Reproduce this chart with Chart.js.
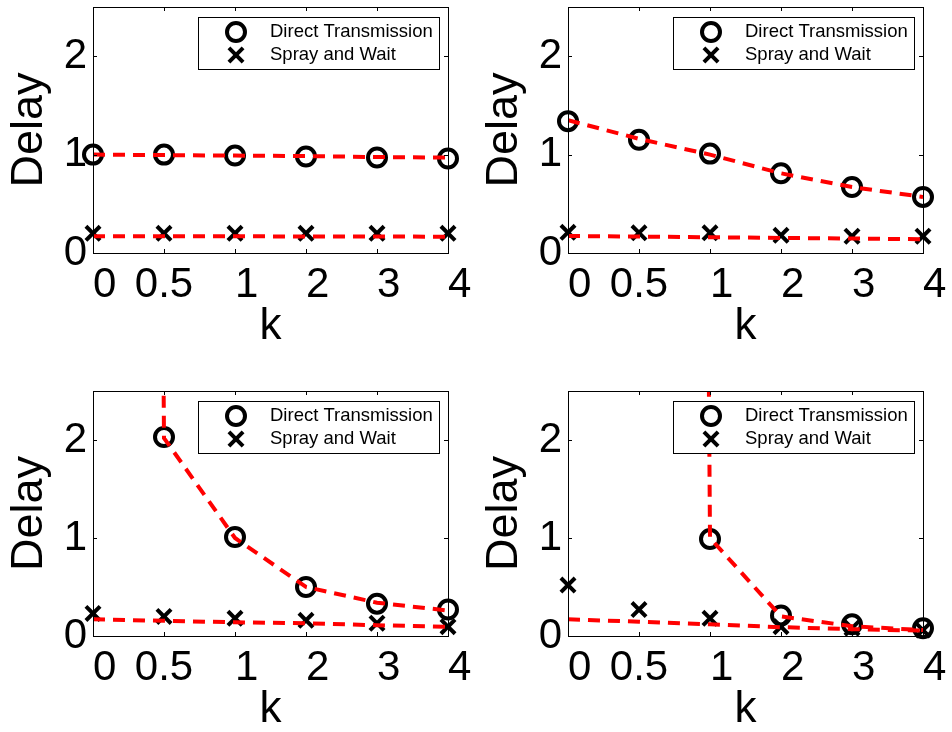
<!DOCTYPE html>
<html>
<head>
<meta charset="utf-8">
<script src="https://cdn.jsdelivr.net/npm/chart.js@4.4.1/dist/chart.umd.min.js"></script>
<style>
body { margin: 0; background: #fff; }
.panel { position: absolute; width: 476px; height: 366px; }
</style>
</head>
<body>
<div class="panel" style="left:0;top:0"><canvas id="c1" width="476" height="366"></canvas></div>
<div class="panel" style="left:475px;top:0"><canvas id="c2" width="476" height="366"></canvas></div>
<div class="panel" style="left:0;top:366px"><canvas id="c3" width="476" height="366"></canvas></div>
<div class="panel" style="left:475px;top:366px"><canvas id="c4" width="476" height="366"></canvas></div>
<script>
const kLabels = ['0', '0.5', '1', '2', '3', '4'];
const yTickValues = [0, 1, 2];
const seriesNames = ['Direct Transmission', 'Spray and Wait'];

// top left
const dt1    = [1.0, 1.0, 0.99, 0.98, 0.97, 0.96];
const dtFit1 = [1.0, 0.995, 0.99, 0.985, 0.975, 0.97];
const sw1    = [0.20, 0.20, 0.20, 0.20, 0.20, 0.20];
const swFit1 = [0.17, 0.17, 0.17, 0.168, 0.167, 0.166];

// top right
const dt2    = [1.34, 1.15, 1.01, 0.81, 0.67, 0.57];
const dtFit2 = [1.35, 1.16, 1.0, 0.81, 0.67, 0.57];
const sw2    = [0.21, 0.205, 0.205, 0.18, 0.17, 0.17];
const swFit2 = [0.173, 0.167, 0.16, 0.153, 0.147, 0.14];

// bottom left
const dt3    = [null, 2.03, 1.01, 0.50, 0.33, 0.27];
const dtFit3 = [100, 2.02, 1.0, 0.5, 0.34, 0.26];
const sw3    = [0.23, 0.20, 0.18, 0.16, 0.13, 0.095];
const swFit3 = [0.17, 0.155, 0.14, 0.13, 0.11, 0.095];

// bottom right
const dt4    = [null, null, 0.99, 0.21, 0.12, 0.08];
const dtFit4 = [100, 100, 1.0, 0.2, 0.1, 0.06];
const sw4    = [0.52, 0.27, 0.18, 0.095, 0.08, 0.06];
const swFit4 = [0.17, 0.146, 0.12, 0.09, 0.07, 0.055];

const FONT = '"Liberation Sans", Arial, Helvetica, sans-serif';

function toPoints(values) {
    return values.map((v, i) => ({x: i, y: v}));
}

// matlab style box, inward ticks and the boxed legend
const framePlugin = {
    id: 'frame',
    afterDatasetsDraw(chart) {
        const ctx = chart.ctx;
        const a = chart.chartArea;
        const xs = chart.scales.x, ys = chart.scales.y;
        const tl = 4;
        ctx.save();
        ctx.strokeStyle = '#000';
        ctx.lineWidth = 1;
        ctx.beginPath();
        xs.ticks.forEach(t => {
            let px = Math.round(xs.getPixelForValue(t.value)) + 0.5;
            ctx.moveTo(px, a.bottom); ctx.lineTo(px, a.bottom - tl);
            ctx.moveTo(px, a.top); ctx.lineTo(px, a.top + tl);
        });
        ys.ticks.forEach(t => {
            let py = Math.round(ys.getPixelForValue(t.value)) + 0.5;
            ctx.moveTo(a.left, py); ctx.lineTo(a.left + tl, py);
            ctx.moveTo(a.right, py); ctx.lineTo(a.right - tl, py);
        });
        ctx.stroke();
        ctx.strokeRect(a.left + 0.5, a.top + 0.5, a.right - a.left, a.bottom - a.top);
        ctx.restore();
    },
    afterDraw(chart) {
        const ctx = chart.ctx;
        const a = chart.chartArea;
        const bw = 241, bh = 52;
        const bx = a.right - 9 - bw, by = a.top + 10;
        const mx = bx + 38;
        const rows = [by + 15, by + 38];
        ctx.save();
        ctx.fillStyle = '#fff';
        ctx.fillRect(bx, by, bw, bh);
        ctx.strokeStyle = '#000';
        ctx.lineWidth = 1;
        ctx.strokeRect(bx + 0.5, by + 0.5, bw, bh);

        ctx.lineWidth = 4;
        ctx.beginPath();
        ctx.arc(mx, rows[0], 9, 0, Math.PI * 2);
        ctx.stroke();
        let r = 10 * Math.SQRT1_2;
        ctx.beginPath();
        ctx.moveTo(mx - r, rows[1] - r); ctx.lineTo(mx + r, rows[1] + r);
        ctx.moveTo(mx + r, rows[1] - r); ctx.lineTo(mx - r, rows[1] + r);
        ctx.stroke();

        ctx.fillStyle = '#000';
        ctx.font = '18.5px ' + FONT;
        ctx.textBaseline = 'middle';
        ctx.textAlign = 'left';
        ctx.fillText(seriesNames[0], bx + 72, rows[0]);
        ctx.fillText(seriesNames[1], bx + 72, rows[1]);
        ctx.restore();
    }
};

function createPanel(id, dt, dtFit, sw, swFit, padding) {
    let ctx = document.getElementById(id).getContext('2d');
    return new Chart(ctx, {
        type: 'line',
        data: {
            datasets: [
                {data: toPoints(dtFit), borderColor: '#ff0000', borderWidth: 4, borderDash: [12, 8],
                    pointRadius: 0, tension: 0, fill: false},
                {data: toPoints(swFit), borderColor: '#ff0000', borderWidth: 4, borderDash: [12, 8],
                    pointRadius: 0, tension: 0, fill: false},
                {label: seriesNames[0], data: toPoints(dt), showLine: false, pointStyle: 'circle',
                    pointRadius: 9, pointBorderWidth: 4, pointBorderColor: '#000',
                    pointBackgroundColor: 'rgba(0,0,0,0)', clip: false},
                {label: seriesNames[1], data: toPoints(sw), showLine: false, pointStyle: 'crossRot',
                    pointRadius: 10, pointBorderWidth: 4, pointBorderColor: '#000', clip: false}
            ]
        },
        options: {
            responsive: false,
            animation: false,
            devicePixelRatio: 1,
            events: [],
            layout: {padding: padding, autoPadding: false},
            plugins: {legend: {display: false}, tooltip: {enabled: false}},
            scales: {
                x: {
                    type: 'linear', min: 0, max: kLabels.length - 1,
                    grid: {display: false, drawTicks: false},
                    border: {display: false},
                    afterBuildTicks: s => { s.ticks = kLabels.map((_, i) => ({value: i})); },
                    afterFit: s => { s.height = 96; s.paddingLeft = 0; s.paddingRight = 0; },
                    ticks: {
                        autoSkip: false, maxRotation: 0, padding: 7, color: '#000',
                        font: {family: FONT, size: 42},
                        callback: v => kLabels[v].padStart(3, ' ')
                    },
                    title: {display: true, text: 'k', color: '#000', padding: 0,
                        font: {family: FONT, size: 44, lineHeight: 1}}
                },
                y: {
                    min: 0, max: 2.5,
                    grid: {display: false, drawTicks: false},
                    border: {display: false},
                    afterBuildTicks: s => { s.ticks = yTickValues.map(v => ({value: v})); },
                    afterFit: s => { s.width = 93; s.paddingTop = 0; s.paddingBottom = 0; },
                    ticks: {
                        padding: 6, color: '#000',
                        font: {family: FONT, size: 42},
                        callback: v => String(v)
                    },
                    title: {display: true, text: 'Delay', color: '#000', padding: {top: 7, bottom: 0},
                        font: {family: FONT, size: 45, lineHeight: 1}}
                }
            }
        },
        plugins: [framePlugin]
    });
}

const topPad = {left: 0, top: 7, right: 28, bottom: 17};
const bottomPad = {left: 0, top: 25, right: 28, bottom: 0};

createPanel('c1', dt1, dtFit1, sw1, swFit1, topPad);
createPanel('c2', dt2, dtFit2, sw2, swFit2, topPad);
createPanel('c3', dt3, dtFit3, sw3, swFit3, bottomPad);
createPanel('c4', dt4, dtFit4, sw4, swFit4, bottomPad);
</script>
</body>
</html>
